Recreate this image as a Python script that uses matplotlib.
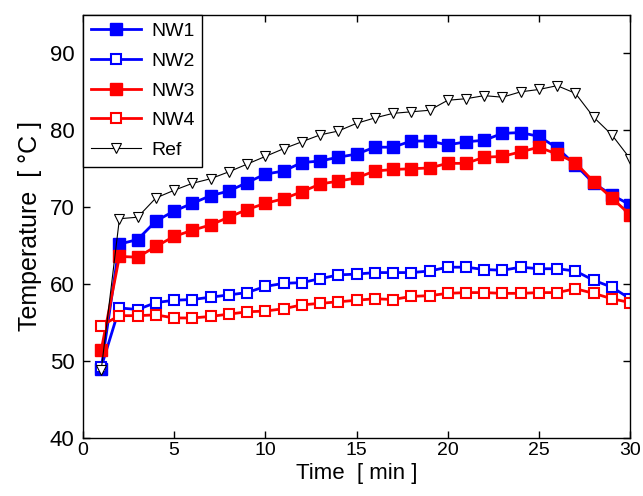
import matplotlib
matplotlib.use("Agg")
import matplotlib.pyplot as plt

plt.rcParams['font.family'] = ['Liberation Sans', 'DejaVu Sans']

t = list(range(1, 31))
nw1 = [49.0, 65.2, 65.8, 68.2, 69.5, 70.5, 71.5, 72.1, 73.2, 74.3, 74.7, 75.8, 76.0, 76.5, 76.9,
       77.8, 77.8, 78.6, 78.6, 78.1, 78.5, 78.7, 79.6, 79.7, 79.2, 77.7, 75.5, 73.1, 71.6, 70.3]
nw2 = [49.2, 56.9, 56.7, 57.6, 57.9, 58.0, 58.3, 58.6, 58.9, 59.7, 60.1, 60.2, 60.7, 61.2, 61.3,
       61.5, 61.5, 61.5, 61.7, 62.2, 62.2, 61.9, 61.8, 62.2, 62.0, 62.0, 61.7, 60.5, 59.6, 58.1]
nw3 = [51.4, 63.6, 63.5, 64.9, 66.2, 67.0, 67.7, 68.7, 69.7, 70.5, 71.1, 72.0, 73.0, 73.4, 73.8,
       74.7, 74.9, 75.0, 75.1, 75.7, 75.7, 76.5, 76.6, 77.2, 77.8, 76.9, 75.8, 73.3, 71.2, 69.0]
nw4 = [54.6, 55.9, 55.9, 56.0, 55.6, 55.6, 55.8, 56.1, 56.4, 56.5, 56.8, 57.3, 57.5, 57.7, 57.9,
       58.1, 58.0, 58.4, 58.5, 58.8, 58.9, 58.9, 58.8, 58.8, 58.9, 58.9, 59.4, 58.8, 58.1, 57.6]
ref = [48.8, 68.5, 68.7, 71.2, 72.2, 73.1, 73.7, 74.6, 75.6, 76.6, 77.6, 78.5, 79.4, 79.9, 80.9,
       81.6, 82.2, 82.4, 82.6, 83.9, 84.1, 84.5, 84.3, 85.0, 85.3, 85.8, 84.8, 81.7, 79.4, 76.3]

fig = plt.figure(figsize=(6.43, 4.96), dpi=100)
ax = fig.add_axes([0.129, 0.117, 0.851, 0.853])

ax.plot(t, nw1, color='#0000ff', lw=2, marker='s', ms=8, mfc='#0000ff', mec='#0000ff', label='NW1')
ax.plot(t, nw2, color='#0000ff', lw=2, marker='s', ms=6.5, mfc='white', mec='#0000ff', mew=1.5, label='NW2')
ax.plot(t, nw3, color='#ff0000', lw=2, marker='s', ms=8, mfc='#ff0000', mec='#ff0000', label='NW3')
ax.plot(t, nw4, color='#ff0000', lw=2, marker='s', ms=6.5, mfc='white', mec='#ff0000', mew=1.5, label='NW4')
ax.plot(t, ref, color='black', lw=0.8, marker='v', ms=7, mfc='white', mec='black', mew=0.8, label='Ref')

ax.set_xlim(0, 30)
ax.set_ylim(40, 95)
ax.set_xticks([0, 5, 10, 15, 20, 25, 30])
ax.set_yticks([40, 50, 60, 70, 80, 90])
ax.tick_params(direction='in', top=True, right=True, length=5, width=1)
ax.tick_params(axis='x', labelsize=14, pad=3)
ax.tick_params(axis='y', labelsize=16, pad=6)
for s in ax.spines.values():
    s.set_linewidth(1)
ax.set_xlabel('Time  [ min ]', fontsize=16, labelpad=3)
ax.set_ylabel('Temperature  [ °C ]', fontsize=18, labelpad=6)

leg = ax.legend(loc='upper left', borderaxespad=0, fontsize=14, fancybox=False,
                edgecolor='black', framealpha=1, handlelength=2.6, labelspacing=0.62,
                borderpad=0.4, handletextpad=0.5)
leg.get_frame().set_linewidth(1)

fig.savefig('out.png', dpi=100)
